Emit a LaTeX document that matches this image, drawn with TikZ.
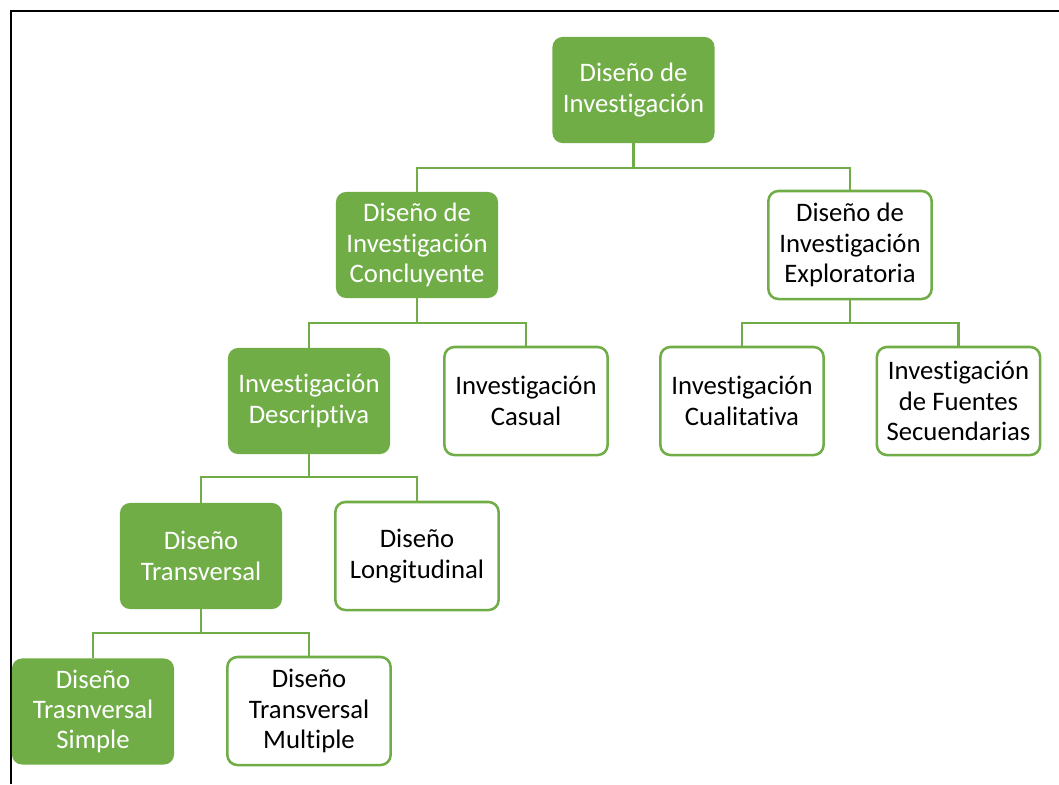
\documentclass[tikz,border=0pt]{standalone}
\usepackage{fontspec}
\setmainfont{Carlito}[Ligatures=NoCommon]
\definecolor{leafgreen}{HTML}{70AD47}
\begin{document}
\begin{tikzpicture}[
    x = 0.025cm,
    y = -0.025cm,
    font = \fontsize{19}{21.5}\selectfont,
    fullbox/.style = {rectangle, rounded corners=0.25cm, fill=leafgreen,
              text=white, align=center, minimum width=4.05cm,
              minimum height=2.65cm, inner sep=2pt},
    openbox/.style = {rectangle, rounded corners=0.25cm, draw=leafgreen,
              line width=1.8pt, fill=white, text=black, align=center,
              minimum width=4.08cm, minimum height=2.7cm, inner sep=2pt},
    link/.style = {draw=leafgreen, line width=1.6pt},
    ]

\useasboundingbox (0,0) rectangle (1059,784);
\draw [black, line width=1.9pt] (11,784) -- (11,11) -- (1059,11);

\node[fullbox] (root)  at (633.5,90) {Diseño de\\Investigación};
\node[fullbox] (conc)  at (417,245) {Diseño de\\Investigación\\Concluyente};
\node[openbox] (expl)  at (850,245) {Diseño de\\Investigación\\Exploratoria};
\node[fullbox] (desc)  at (309,401) {Investigación\\Descriptiva};
\node[openbox] (casu)  at (526,401) {Investigación\\Casual};
\node[openbox] (cual)  at (742,401) {Investigación\\Cualitativa};
\node[openbox] (fuen)  at (958.5,401) {Investigación\\de Fuentes\\Secuendarias};
\node[fullbox] (trans) at (201,556) {Diseño\\Transversal};
\node[openbox] (longi) at (417,556) {Diseño\\Longitudinal};
\node[fullbox] (simp)  at (93,711.5) {Diseño\\Trasnversal\\Simple};
\node[openbox] (mult)  at (309,711) {Diseño\\Transversal\\Multiple};

\draw [link] (root.south) -- ++(0,25) -| (conc.north);
\draw [link] (root.south) -- ++(0,25) -| (expl.north);
\draw [link] (conc.south) -- ++(0,25) -| (desc.north);
\draw [link] (conc.south) -- ++(0,25) -| (casu.north);
\draw [link] (expl.south) -- ++(0,23) -| (cual.north);
\draw [link] (expl.south) -- ++(0,23) -| (fuen.north);
\draw [link] (desc.south) -- ++(0,23) -| (trans.north);
\draw [link] (desc.south) -- ++(0,23) -| (longi.north);
\draw [link] (trans.south) -- ++(0,24) -| (simp.north);
\draw [link] (trans.south) -- ++(0,24) -| (mult.north);

\end{tikzpicture}
\end{document}
